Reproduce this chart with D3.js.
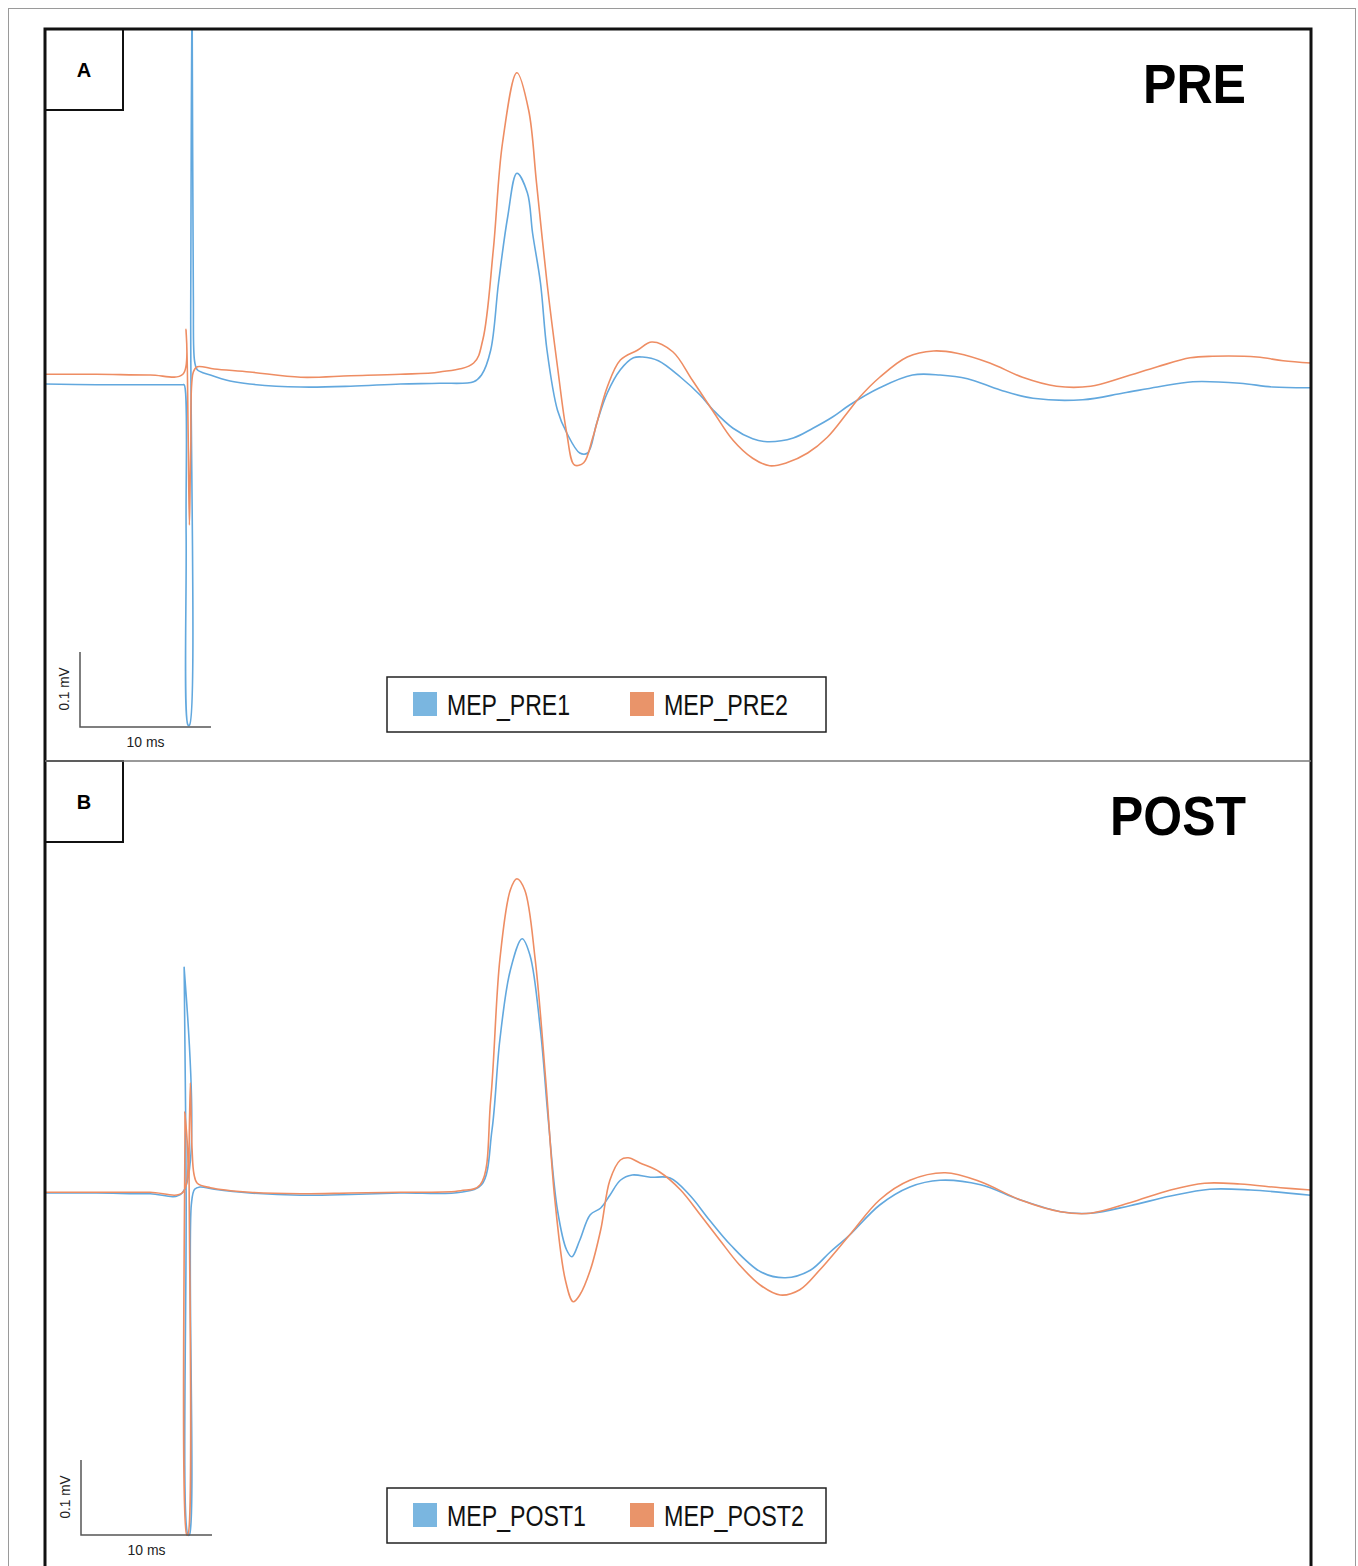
<!DOCTYPE html>
<html>
<head>
<meta charset="utf-8">
<script src="https://cdn.jsdelivr.net/npm/d3@7"></script>
<style>
  body { margin: 0; background: #fff; }
  svg text { font-family: "Liberation Sans", Arial, sans-serif; }
</style>
</head>
<body>
<script>
// MEP traces, time in ms (stimulus at 0), amplitude in microvolts
var pre1T = [-11, -7, -2.9, -0.4, -0.3, -0.15, 0, 0.1, 0.2, 0.3, 0.4, 0.5, 0.7, 1.7, 3.2, 4.7, 8.6, 12.4, 16.2, 19.2, 21.8, 22.4, 23.1, 23.7, 24.4, 25.1, 25.9, 26.3, 26.9, 27.4, 28.2, 28.9, 29.9, 30.5, 31.2, 32.0, 33.0, 34.0, 34.7, 35.9, 37.6, 39.1, 40.1, 41.6, 43.1, 44.2, 46.2, 47.7, 49.2, 50.5, 52.8, 55.3, 57.4, 59.5, 62.0, 64.5, 68.3, 71.4, 74.0, 76.7, 80.3, 82.8, 85.7];
var pre1V = [0, -1, -1, -1, -1, -200, -455, -455, 100, 540, 120, 30, 19, 12, 4, 0, -4, -3, 0, 1, 3, 12, 45, 135, 223, 281, 255, 201, 135, 45, -35, -65, -92, -92, -52, -12, 19, 35, 36, 31, 9, -15, -35, -59, -73, -77, -72, -59, -44, -28, -5, 12, 12, 7, -8, -19, -21, -12, -4, 3, 1, -4, -5];

var pre2T = [-11, -7, -2.9, -0.4, -0.15, 0, 0.1, 0.2, 0.4, 0.7, 2.0, 4.7, 8.6, 12.4, 16.2, 19.2, 21.8, 22.5, 23.3, 24.0, 25.1, 26.0, 26.6, 27.4, 28.2, 28.9, 29.5, 30.2, 30.9, 32.0, 33.0, 34.3, 35.4, 37.0, 38.5, 40.1, 41.6, 43.1, 44.4, 45.7, 47.3, 48.8, 50.3, 51.3, 52.8, 54.9, 56.9, 58.7, 61.2, 63.7, 66.3, 68.9, 71.4, 74.0, 76.5, 78.2, 81.6, 83.6, 85.7];
var pre2V = [13, 13, 12, 13, 73, -60, -188, -88, 16, 23, 20, 16, 9, 11, 13, 16, 28, 59, 179, 321, 415, 365, 268, 135, 23, -65, -108, -105, -71, -4, 32, 45, 56, 43, 5, -37, -75, -99, -109, -105, -92, -71, -39, -17, 9, 36, 44, 41, 28, 9, -3, -3, 9, 23, 35, 37, 36, 31, 28];

var post1T = [-11, -7, -2.9, -0.45, -0.3, -0.15, 0.0, 0.1, 0.25, 0.5, 0.9, 2.0, 4.7, 8.6, 12.4, 16.2, 20.8, 22.4, 23.2, 23.8, 24.6, 25.5, 26.1, 26.9, 27.5, 28.2, 28.9, 29.3, 29.9, 30.7, 31.5, 32.2, 33.0, 33.9, 35.3, 36.8, 38.3, 39.8, 41.4, 43.7, 45.6, 47.5, 49.0, 50.5, 52.8, 55.1, 57.4, 60.5, 63.5, 66.6, 68.9, 71.9, 75.0, 78.0, 81.1, 85.7];
var post1V = [0, 0, -1, 0, 301, 0, -456, -456, -15, 5, 8, 5, 0, -3, -2, 0, 1, 11, 84, 204, 297, 339, 317, 217, 97, -23, -76, -85, -63, -29, -20, -3, 17, 24, 21, 20, -3, -36, -69, -105, -113, -103, -79, -56, -16, 8, 17, 11, -9, -25, -27, -17, -4, 5, 4, -3];

var post2T = [-11, -7, -2.9, -0.4, -0.25, -0.1, -0.02, 0.08, 0.17, 0.3, 0.45, 0.7, 1.7, 4.7, 8.6, 12.4, 16.2, 20.8, 22.3, 23.1, 23.8, 24.6, 25.1, 25.7, 26.5, 27.3, 28.0, 28.8, 29.4, 29.9, 30.7, 31.5, 32.2, 33.0, 33.6, 34.5, 36.0, 37.6, 39.1, 40.6, 42.1, 43.7, 45.2, 46.7, 48.2, 50.5, 52.8, 55.1, 57.8, 60.5, 63.5, 66.6, 68.9, 71.9, 75.0, 77.6, 80.3, 83.4, 85.7];
var post2V = [1, 1, 1, 1, 108, -456, -456, 60, 147, 60, 25, 13, 7, 1, -1, 0, 1, 3, 11, 124, 311, 404, 419, 404, 311, 151, -9, -116, -145, -136, -103, -49, 17, 44, 47, 40, 28, 4, -29, -63, -96, -123, -136, -129, -103, -56, -9, 17, 27, 15, -9, -25, -27, -13, 4, 13, 12, 7, 4];

var panels = [
  { label: 'A', title: 'PRE', names: ['MEP_PRE1', 'MEP_PRE2'], series: [[pre1T, pre1V], [pre2T, pre2V]] },
  { label: 'B', title: 'POST', names: ['MEP_POST1', 'MEP_POST2'], series: [[post1T, post1V], [post2T, post2V]] }
];

var lineColors = ['#62a8de', '#ee8d63'],
    swatchColors = ['#7ab6e0', '#e9946a'];

var W = 1358, H = 1566;
var frame = { left: 45, right: 1311, top: 29 };
var panelTops = [29, 761], panelH = [732, 820];
var zeroY = [384, 1193];
var legendY = [677, 1488];
var titleW = [103, 136], nameW = [[123, 124], [139, 140]];

var svg = d3.select('body').append('svg')
    .attr('width', W).attr('height', H);

// outer thin border
svg.append('rect')
    .attr('x', 8.5).attr('y', 8.5)
    .attr('width', 1347).attr('height', H + 20)
    .attr('fill', 'none').attr('stroke', '#9a9a9a').attr('stroke-width', 1);

// time scale shared by both panels
var x = d3.scaleLinear().domain([-11, 85.8]).range([44, 1312]);

panels.forEach(function(p, i) {
    var top = panelTops[i];
    var g = svg.append('g');

    // amplitude scale: 100 uV = 75 px
    var y = d3.scaleLinear().domain([-100, 100]).range([zeroY[i] + 75, zeroY[i] - 75]);

    var clipId = 'clip' + i;
    svg.append('clipPath').attr('id', clipId)
      .append('rect')
        .attr('x', frame.left).attr('y', top)
        .attr('width', frame.right - frame.left).attr('height', panelH[i]);

    var line = d3.line()
        .x(function(d) { return x(d[0]); })
        .y(function(d) { return y(d[1]); })
        .curve(d3.curveCatmullRom.alpha(0.5));

    p.series.forEach(function(s, k) {
        var pts = s[0].map(function(t, j) { return [t, s[1][j]]; });
        g.append('path')
            .attr('d', line(pts))
            .attr('clip-path', 'url(#' + clipId + ')')
            .attr('fill', 'none')
            .attr('stroke', lineColors[k])
            .attr('stroke-width', 1.6)
            .attr('stroke-linejoin', 'round');
    });

    // label box
    g.append('rect')
        .attr('x', frame.left).attr('y', top)
        .attr('width', 78).attr('height', 81)
        .attr('fill', 'none').attr('stroke', '#111').attr('stroke-width', 2);
    g.append('text')
        .attr('x', 84).attr('y', top + 48)
        .attr('text-anchor', 'middle')
        .attr('font-size', 20).attr('font-weight', 'bold')
        .text(p.label);

    // title
    g.append('text')
        .attr('x', 1246 - titleW[i]).attr('y', top + 74)
        .attr('font-size', 56).attr('font-weight', 'bold')
        .attr('textLength', titleW[i]).attr('lengthAdjust', 'spacingAndGlyphs')
        .text(p.title);

    // scale bar
    var sx0 = 80 + i, sy0 = zeroY[i] + (i === 0 ? 343 : 342);
    var tBase = x.invert(sx0), vBase = y.invert(sy0);
    var sx1 = x(tBase + 10), sy1 = y(vBase + 100);
    g.append('path')
        .attr('d', 'M' + sx0 + ',' + sy1 + 'V' + sy0 + 'H' + sx1)
        .attr('fill', 'none').attr('stroke', '#555').attr('stroke-width', 1.5);
    g.append('text')
        .attr('transform', 'translate(' + (sx0 - 11) + ',' + ((sy0 + sy1) / 2 + 21) + ') rotate(-90)')
        .attr('font-size', 15).attr('fill', '#222')
        .attr('textLength', 43).attr('lengthAdjust', 'spacingAndGlyphs')
        .text('0.1 mV');
    g.append('text')
        .attr('x', (sx0 + sx1) / 2 - 19).attr('y', sy0 + 20)
        .attr('font-size', 15).attr('fill', '#222')
        .attr('textLength', 38).attr('lengthAdjust', 'spacingAndGlyphs')
        .text('10 ms');

    // legend
    var ly = legendY[i];
    g.append('rect')
        .attr('x', 387).attr('y', ly)
        .attr('width', 439).attr('height', 55)
        .attr('fill', '#fff').attr('stroke', '#222').attr('stroke-width', 1.5);
    [413, 630].forEach(function(lx, k) {
        g.append('rect')
            .attr('x', lx).attr('y', ly + 15)
            .attr('width', 24).attr('height', 24)
            .attr('fill', swatchColors[k]);
        g.append('text')
            .attr('x', lx + 34).attr('y', ly + 38)
            .attr('font-size', 30).attr('fill', '#111')
            .attr('textLength', nameW[i][k]).attr('lengthAdjust', 'spacingAndGlyphs')
            .text(p.names[k]);
    });
});

// main black frame
svg.append('path')
    .attr('d', 'M' + frame.left + ',' + (H + 10) + 'V' + frame.top + 'H' + frame.right + 'V' + (H + 10))
    .attr('fill', 'none').attr('stroke', '#111').attr('stroke-width', 3);

// divider between panels
svg.append('line')
    .attr('x1', frame.left).attr('x2', frame.right)
    .attr('y1', panelTops[1]).attr('y2', panelTops[1])
    .attr('stroke', '#777').attr('stroke-width', 1.5);
</script>
</body>
</html>
